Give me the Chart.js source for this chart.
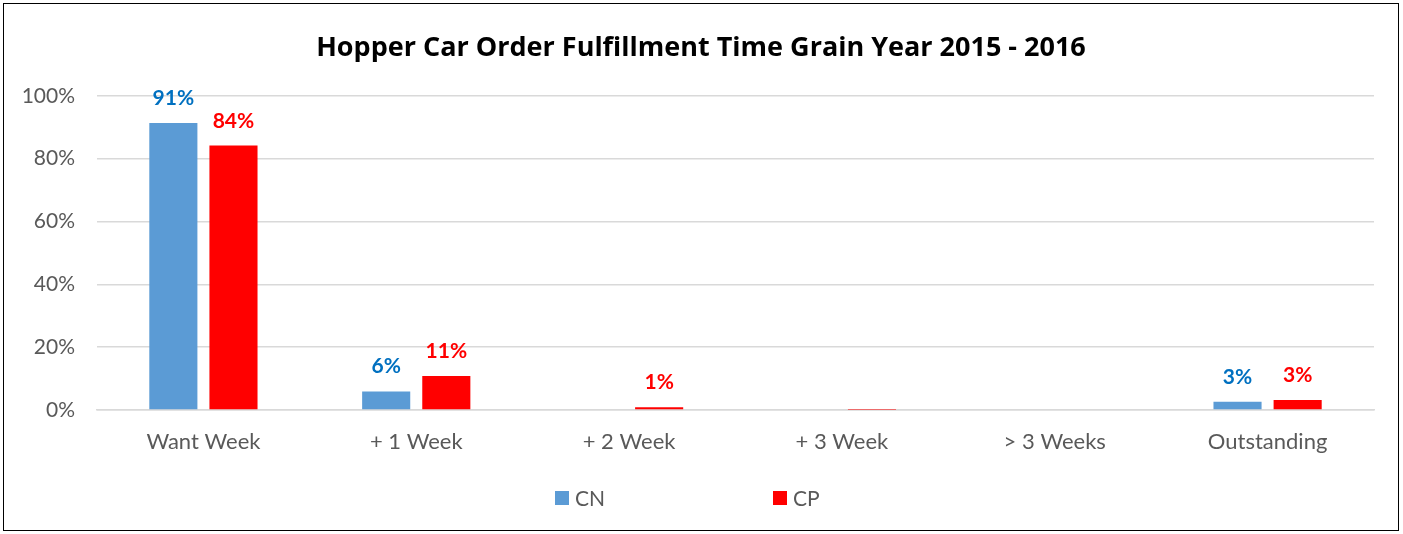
<!DOCTYPE html>
<html>
<head>
<meta charset="utf-8">
<script src="https://cdn.jsdelivr.net/npm/chart.js@4/dist/chart.umd.min.js"></script>
<style>
  html, body { margin: 0; padding: 0; background: #fff; }
  #box {
    position: absolute;
    left: 3px; top: 3px;
    width: 1394px; height: 526px;
    border: 1.5px solid #000;
  }
</style>
</head>
<body>
<div id="box"><canvas id="orderChart" width="1394" height="526"></canvas></div>
<script>
const ctx = document.getElementById("orderChart");

const categories = ["Want Week", "+ 1 Week", "+ 2 Week", "+ 3 Week", "> 3 Weeks", "Outstanding"];
const cnValues = [91.4, 5.9, 0, 0, 0, 2.6];
const cpValues = [84.2, 10.8, 0.9, 0.1, 0, 3.2];
const yTicks = [0, 20, 40, 60, 80, 100];

const FONT = "Lato, 'Open Sans', sans-serif";

// value labels above each bar
const barLabels = {
  id: "barLabels",
  afterDatasetsDraw(chart) {
    const c = chart.ctx;
    c.save();
    c.font = "bold 21px " + FONT;
    c.textAlign = "center";
    c.textBaseline = "alphabetic";
    chart.data.datasets.forEach((ds, i) => {
      chart.getDatasetMeta(i).data.forEach((bar, j) => {
        const v = ds.data[j];
        if (v < 0.5) return;
        c.fillStyle = ds.labelColor;
        c.fillText(Math.round(v) + "%", bar.x, bar.y - 18);
      });
    });
    c.restore();
  },
};

// legend spread out like the original
const wideLegend = {
  id: "wideLegend",
  afterDraw(chart) {
    const c = chart.ctx;
    const cx = chart.width / 2;
    const y = 494;
    const offsets = [-146, 72];
    c.save();
    c.font = "21px " + FONT;
    c.textBaseline = "middle";
    c.textAlign = "left";
    chart.data.datasets.forEach((ds, i) => {
      const x = cx + offsets[i];
      c.fillStyle = ds.backgroundColor;
      c.fillRect(x, y - 7, 14, 14);
      c.fillStyle = "#595959";
      c.fillText(ds.label, x + 20, y + 1);
    });
    c.restore();
  },
};

new Chart(ctx, {
  type: "bar",
  data: {
    labels: categories,
    datasets: [
      {
        label: "CN",
        data: cnValues,
        backgroundColor: "#5B9BD5",
        labelColor: "#0070C0",
        barPercentage: 0.8,
        categoryPercentage: 0.565,
      },
      {
        label: "CP",
        data: cpValues,
        backgroundColor: "#FF0000",
        labelColor: "#FF0000",
        barPercentage: 0.8,
        categoryPercentage: 0.565,
      },
    ],
  },
  options: {
    responsive: false,
    animation: false,
    layout: { padding: { top: 10, right: 0, left: 0, bottom: 0 } },
    plugins: {
      legend: { display: false },
      tooltip: { enabled: false },
      title: {
        display: true,
        text: "Hopper Car Order Fulfillment Time Grain Year 2015 - 2016",
        color: "#000",
        font: { family: "'Open Sans', Lato, sans-serif", size: 27, weight: "bold" },
        padding: { top: 18, bottom: 31.5 },
      },
    },
    scales: {
      x: {
        grid: { display: false, drawTicks: false },
        border: { color: "#D9D9D9", width: 1.5 },
        ticks: { color: "#595959", font: { family: FONT, size: 22 }, padding: 19 },
        afterFit(s) { s.height = 120; },
      },
      y: {
        min: 0,
        max: 100,
        afterBuildTicks(s) { s.ticks = yTicks.map((v) => ({ value: v })); },
        grid: { color: "#D9D9D9", lineWidth: 1.5, drawTicks: false },
        border: { display: false },
        ticks: {
          color: "#595959",
          font: { family: FONT, size: 21 },
          padding: 22,
          callback: (v) => v + "%",
        },
        afterFit(s) { s.width = 93; },
      },
      // empty right gutter so the title stays centred on the whole box
      gutter: {
        type: "linear",
        position: "right",
        grid: { display: false, drawTicks: false },
        border: { display: false },
        ticks: { display: false },
        afterFit(s) { s.width = 24; },
      },
    },
  },
  plugins: [barLabels, wideLegend],
});
</script>
</body>
</html>
